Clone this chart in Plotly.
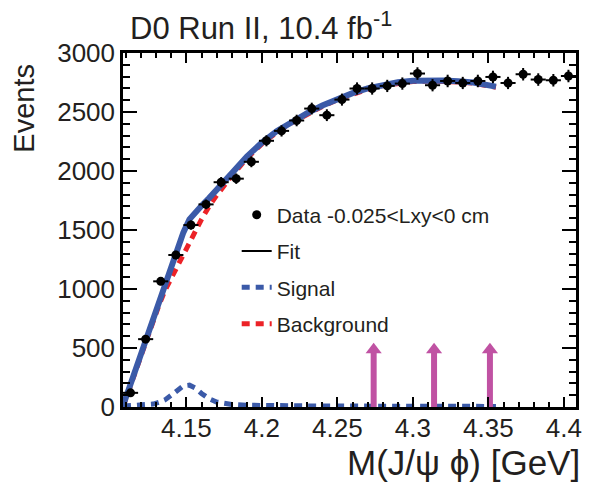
import plotly.graph_objects as go

# ---------------- data ----------------
mass = [4.113, 4.123, 4.133, 4.143, 4.153, 4.163, 4.173, 4.183, 4.193, 4.203,
        4.213, 4.223, 4.233, 4.243, 4.253, 4.263, 4.273, 4.283, 4.293, 4.303,
        4.313, 4.323, 4.333, 4.343, 4.353, 4.363, 4.373, 4.383, 4.393, 4.403]
counts = [120, 575, 1065, 1288, 1542, 1717, 1905, 1935, 2078, 2256,
          2340, 2428, 2529, 2473, 2605, 2699, 2699, 2721, 2741, 2826,
          2727, 2763, 2746, 2763, 2797, 2746, 2820, 2775, 2769, 2805]
count_err = [11, 24, 33, 36, 39, 41, 44, 44, 46, 47,
             48, 49, 50, 50, 51, 52, 52, 52, 52, 53,
             52, 53, 52, 53, 53, 52, 53, 53, 53, 53]
bin_half_width = 0.005

curve_mass = [4.108, 4.112, 4.116, 4.120, 4.124, 4.128, 4.132, 4.136, 4.140, 4.144,
              4.148, 4.152, 4.156, 4.160, 4.165, 4.170, 4.180, 4.190, 4.200, 4.210,
              4.220, 4.230, 4.240, 4.250, 4.260, 4.270, 4.280, 4.290, 4.300, 4.310,
              4.320, 4.330, 4.340, 4.355]
fit_vals = [10, 160, 310, 460, 615, 765, 910, 1055, 1195, 1335,
            1480, 1590, 1655, 1705, 1770, 1835, 1980, 2122, 2242, 2340,
            2420, 2490, 2555, 2612, 2660, 2700, 2731, 2752, 2764, 2769,
            2767, 2761, 2750, 2715]
signal_vals = [8, 10, 12, 15, 18, 25, 40, 62, 100, 145,
               180, 185, 160, 115, 70, 42, 22, 15, 12, 10,
               9, 9, 8, 8, 8, 7, 7, 7, 6, 6,
               6, 6, 5, 5]
background_vals = [2, 150, 298, 445, 597, 740, 870, 993, 1095, 1190,
                   1300, 1405, 1495, 1590, 1700, 1793, 1958, 2107, 2230, 2330,
                   2411, 2481, 2547, 2604, 2652, 2693, 2724, 2745, 2758, 2763,
                   2761, 2755, 2745, 2710]

arrow_mass = [4.274, 4.314, 4.351]
arrow_head = [485, 485, 485]

x_tickvals = [4.15, 4.20, 4.25, 4.30, 4.35, 4.40]
x_ticktext = ["4.15", "4.2", "4.25", "4.3", "4.35", "4.4"]
x_minorvals = [4.11, 4.12, 4.13, 4.14, 4.16, 4.17, 4.18, 4.19, 4.21, 4.22, 4.23, 4.24,
               4.26, 4.27, 4.28, 4.29, 4.31, 4.32, 4.33, 4.34, 4.36, 4.37, 4.38, 4.39]
y_tickvals = [0, 500, 1000, 1500, 2000, 2500, 3000]

# ---------------- styles ----------------
BLUE = "#3b5aa8"
RED = "#ec2227"
MAGENTA = "#c052a3"
TXT = "#231f20"
FONT = "Liberation Sans, Arial, Helvetica, sans-serif"

fig = go.Figure()

fig.add_trace(go.Scatter(
    x=curve_mass, y=background_vals, mode="lines", name="Background",
    line=dict(color=RED, width=5, dash="8px,6px"),
    legendrank=4, legendgroup="bkg"))
fig.add_trace(go.Scatter(
    x=curve_mass, y=signal_vals, mode="lines", name="Signal",
    line=dict(color=BLUE, width=5, dash="8px,6px"),
    legendrank=3, legendgroup="sig"))
fig.add_trace(go.Scatter(
    x=curve_mass, y=fit_vals, mode="lines", name="Fit curve",
    line=dict(color=BLUE, width=6), showlegend=False))
fig.add_trace(go.Scatter(
    x=[None], y=[None], mode="lines", name="Fit",
    line=dict(color="black", width=2),
    legendrank=2, legendgroup="fit"))
fig.add_trace(go.Scatter(
    x=mass, y=counts, mode="markers", name="Data -0.025&lt;Lxy&lt;0 cm",
    marker=dict(color="black", size=9),
    error_x=dict(type="constant", value=bin_half_width, width=0, thickness=2, color="black"),
    error_y=dict(type="data", array=count_err, width=0, thickness=2, color="black"),
    legendrank=1, legendgroup="data"))

# arrows: shaft lines + triangle heads
shaft_x, shaft_y = [], []
for xm, yh in zip(arrow_mass, arrow_head):
    shaft_x += [xm, xm, None]
    shaft_y += [0, yh, None]
fig.add_trace(go.Scatter(
    x=shaft_x, y=shaft_y, mode="lines", line=dict(color=MAGENTA, width=6),
    showlegend=False, hoverinfo="skip"))
fig.add_trace(go.Scatter(
    x=arrow_mass, y=arrow_head, mode="markers",
    marker=dict(symbol="triangle-up", size=14, color=MAGENTA, line=dict(width=0)),
    showlegend=False, hoverinfo="skip"))

fig.add_annotation(
    text="D0 Run II, 10.4 fb<sup>-1</sup>", xref="paper", yref="paper",
    x=0.011, y=1.075, xanchor="left", yanchor="middle", showarrow=False,
    font=dict(size=31, color=TXT, family=FONT))
fig.add_annotation(
    text="M(J/ψ ϕ) [GeV]", xref="paper", yref="paper",
    x=1.014, y=-0.158, xanchor="right", yanchor="middle", showarrow=False,
    font=dict(size=35, color=TXT, family=FONT))
fig.add_annotation(
    text="Events", xref="paper", yref="paper", textangle=-90,
    x=-0.219, y=0.845, xanchor="center", yanchor="middle", showarrow=False,
    font=dict(size=29, color=TXT, family=FONT))

fig.update_layout(
    width=590, height=491,
    margin=dict(l=123, r=8, t=53, b=84),
    plot_bgcolor="white", paper_bgcolor="white",
    font=dict(family=FONT, color=TXT),
    showlegend=True,
    legend=dict(x=0.251, y=0.60, xanchor="left", yanchor="top",
                bgcolor="rgba(0,0,0,0)", font=dict(size=21, color=TXT, family=FONT),
                tracegroupgap=6, itemwidth=30, traceorder="grouped"),
)
fig.update_xaxes(
    range=[4.108, 4.408], tickmode="array", tickvals=x_tickvals, ticktext=x_ticktext,
    ticks="inside", ticklen=10, tickwidth=2, tickcolor="black", ticklabelstandoff=-4,
    minor=dict(tickmode="array", tickvals=x_minorvals, ticks="inside", ticklen=5,
               tickwidth=2, tickcolor="black"),
    showline=True, linewidth=2.5, linecolor="black", mirror="ticks",
    showgrid=False, zeroline=False, tickfont=dict(size=26, color=TXT, family=FONT))
fig.update_yaxes(
    range=[0, 3000], tickmode="array", tickvals=y_tickvals,
    ticks="inside", ticklen=14, tickwidth=2, tickcolor="black",
    minor=dict(dtick=100, ticks="inside", ticklen=7, tickwidth=2, tickcolor="black"),
    showline=True, linewidth=2.5, linecolor="black", mirror="ticks",
    showgrid=False, zeroline=False, tickfont=dict(size=26, color=TXT, family=FONT))

fig.write_html("out.html")
